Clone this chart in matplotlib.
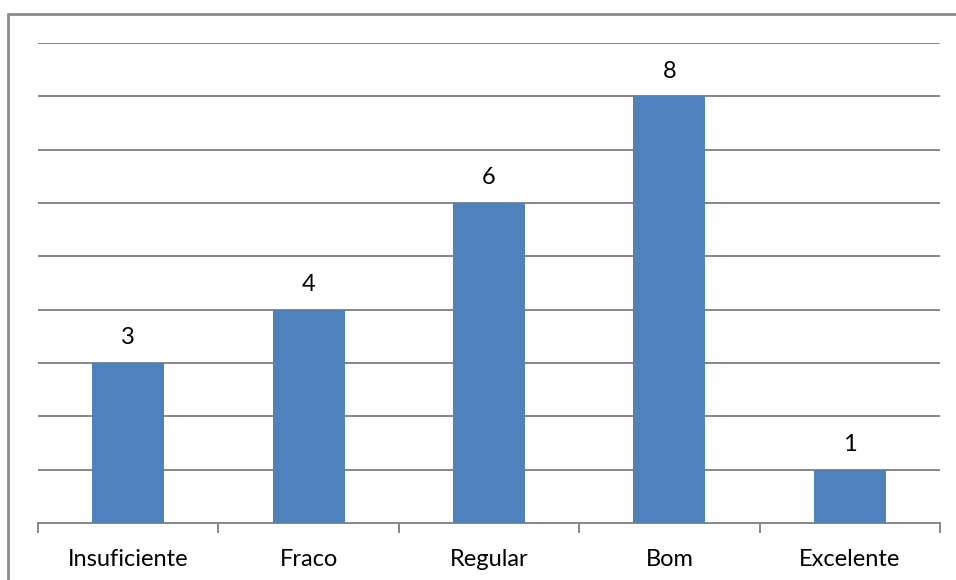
import numpy as np
import matplotlib.pyplot as plt
from matplotlib.patches import Rectangle

categories = ['Insuficiente', 'Fraco', 'Regular', 'Bom', 'Excelente']
values = [3, 4, 6, 8, 1]

plt.rcParams['font.family'] = ['Lato', 'DejaVu Sans']

fig = plt.figure(figsize=(9.56, 5.8), dpi=100)
# outer frame (cut off at right/bottom like the reference)
fig.patches.append(Rectangle((8 / 956, -0.1), 1.2, 1 - 14 / 580 + 0.1,
                             transform=fig.transFigure, fill=False,
                             edgecolor='#8c8c8c', linewidth=2, zorder=0))

ax = fig.add_axes([38 / 956, 1 - 523 / 580, (940 - 38) / 956, (523 - 43) / 580])
x = np.arange(len(categories))
ax.bar(x, values, width=0.4, color='#4F81BD', zorder=3)

ax.set_xlim(-0.5, len(categories) - 0.5)
ax.set_ylim(0, 9)
for yv in range(1, 10):
    ax.axhline(yv, color='#868686', linewidth=1.4, zorder=1)

for xi, v in zip(x, values):
    ax.text(xi, v + 0.47, str(v), ha='center', va='center', fontsize=17, color='black')

for s in ['top', 'right', 'left']:
    ax.spines[s].set_visible(False)
ax.spines['bottom'].set_color('#868686')
ax.spines['bottom'].set_linewidth(1.4)
ax.set_yticks([])
ax.set_xticks(np.arange(-0.5, len(categories), 1.0))
ax.set_xticklabels([])
ax.set_xticks(x, minor=True)
ax.set_xticklabels(categories, minor=True, fontsize=17)
ax.tick_params(axis='x', which='major', length=7, color='#868686', width=1.4)
ax.tick_params(axis='x', which='minor', length=0, pad=19)

fig.savefig('out.png', dpi=100)
